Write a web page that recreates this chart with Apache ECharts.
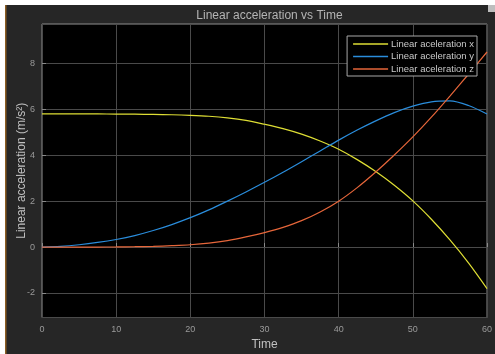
<!DOCTYPE html>
<html>
<head>
<meta charset="utf-8">
<script src="https://cdn.jsdelivr.net/npm/echarts@6/dist/echarts.min.js"></script>
<style>
  html, body { margin: 0; padding: 0; background: #ffffff; }
  #chart { width: 495px; height: 354px; }
</style>
</head>
<body>
<div id="chart"></div>
<script>
// Sample times (s)
const time = [0, 2.5, 5, 7.5, 10, 12.5, 15, 17.5, 20, 22.5, 25, 27.5, 30, 32.5, 35, 37.5, 40, 42.5, 45, 47.5, 50, 52.5, 55, 57.5, 60];

// Linear acceleration components (m/s^2)
const accelX = [5.80, 5.80, 5.80, 5.80, 5.795, 5.79, 5.78, 5.765, 5.74, 5.70, 5.63, 5.52, 5.35, 5.16, 4.92, 4.62, 4.26, 3.81, 3.29, 2.69, 2.01, 1.21, 0.31, -0.69, -1.81];
const accelY = [0.00, 0.03, 0.10, 0.20, 0.33, 0.50, 0.72, 0.98, 1.28, 1.62, 2.00, 2.40, 2.82, 3.26, 3.72, 4.19, 4.66, 5.10, 5.50, 5.86, 6.14, 6.33, 6.37, 6.17, 5.80];
const accelZ = [0.00, 0.00, 0.00, 0.00, 0.005, 0.015, 0.03, 0.06, 0.10, 0.17, 0.28, 0.44, 0.63, 0.86, 1.15, 1.53, 2.00, 2.59, 3.27, 4.01, 4.80, 5.66, 6.58, 7.53, 8.50];

const seriesNames = ['Linear aceleration x', 'Linear aceleration y', 'Linear aceleration z'];
const seriesColors = ['#dede34', '#2a8ddc', '#e6663a'];

const xTicks = { min: 0, max: 60, step: 10 };
const yRange = { min: -3.07, max: 9.72 };

const pairs = arr => time.map((t, i) => [t, arr[i]]);
const values = [accelX, accelY, accelZ];

const chart = echarts.init(document.getElementById('chart'), null, { renderer: 'canvas' });

chart.setOption({
  backgroundColor: '#ffffff',
  animation: false,
  textStyle: { fontFamily: '"Liberation Sans", Arial, sans-serif' },
  graphic: [
    { type: 'rect', z: -10, silent: true,
      shape: { x: 5, y: 5, width: 490, height: 349 },
      style: { fill: '#262626' } },
    { type: 'rect', z: -9, silent: true,
      shape: { x: 5, y: 5, width: 1.5, height: 349 },
      style: { fill: '#8a5c22' } },
    { type: 'rect', z: 10, silent: true,
      shape: { x: 488, y: 5, width: 7, height: 7 },
      style: { fill: '#bdbdbd' } }
  ],
  title: {
    text: 'Linear acceleration vs Time',
    left: 264.5, top: 5, textAlign: 'center',
    textStyle: { color: '#b4b4b4', fontSize: 12, fontWeight: 'normal' }
  },
  legend: {
    data: seriesNames,
    orient: 'vertical',
    right: 18, top: 36,
    backgroundColor: '#000000',
    borderColor: '#a8a8a8', borderWidth: 1,
    padding: [3, 3, 2, 6],
    icon: 'rect',
    itemWidth: 35, itemHeight: 1.3, itemGap: 2.5,
    textStyle: { color: '#c8c8c8', fontSize: 9.5, padding: [0, 0, 0, -2] }
  },
  grid: {
    left: 42, right: 8, top: 24, bottom: 36.5,
    containLabel: false, outerBoundsMode: 'none',
    show: true, backgroundColor: '#000000',
    borderColor: '#8a8a8a', borderWidth: 1
  },
  xAxis: {
    type: 'value',
    min: xTicks.min, max: xTicks.max, interval: xTicks.step,
    name: 'Time', nameLocation: 'middle', nameGap: 21.5, nameMoveOverlap: false,
    nameTextStyle: { color: '#c0c0c0', fontSize: 12 },
    axisLine: { show: false },
    axisTick: { show: true, inside: true, length: 4, lineStyle: { color: '#8a8a8a' } },
    axisLabel: { color: '#9a9a9a', fontSize: 9, margin: 8 },
    splitLine: { show: true, lineStyle: { color: '#4a4a4a', width: 1 } }
  },
  yAxis: {
    type: 'value',
    min: yRange.min, max: yRange.max, splitNumber: 6,
    name: 'Linear acceleration (m/s²)', nameLocation: 'middle', nameGap: 14.5, nameMoveOverlap: false,
    nameTextStyle: { color: '#c0c0c0', fontSize: 12 },
    axisLine: { show: false },
    axisTick: { show: true, inside: true, length: 4, lineStyle: { color: '#8a8a8a' } },
    axisLabel: { color: '#9a9a9a', fontSize: 9, margin: 7, showMinLabel: false, showMaxLabel: false },
    splitLine: { show: true, lineStyle: { color: '#4a4a4a', width: 1 } }
  },
  series: values.map((v, i) => ({
    name: seriesNames[i],
    type: 'line',
    data: pairs(v),
    smooth: 0.3,
    symbol: 'none',
    lineStyle: { color: seriesColors[i], width: 1.2 },
    itemStyle: { color: seriesColors[i] }
  }))
});
</script>
</body>
</html>
